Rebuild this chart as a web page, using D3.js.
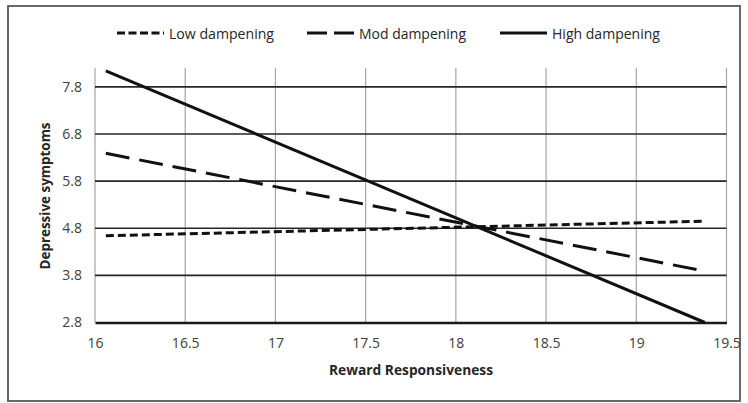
<!DOCTYPE html>
<html><head><meta charset="utf-8">
<script src="https://cdn.jsdelivr.net/npm/d3@7"></script>
<style>body{margin:0;background:#fff}svg{display:block}text{font-family:"Open Sans",sans-serif}</style>
</head><body><svg id="c" width="748" height="403"></svg>
<script>
const xPoints = [16.06, 19.38];
const lowDampening = [4.64, 4.95];
const modDampening = [6.39, 3.89];
const highDampening = [8.14, 2.8];
const seriesNames = ["Low dampening", "Mod dampening", "High dampening"];
const xTicks = [16, 16.5, 17, 17.5, 18, 18.5, 19, 19.5];
const yTicks = [2.8, 3.8, 4.8, 5.8, 6.8, 7.8];

const svg = d3.select("#c");
svg.append("rect").attr("x", 8).attr("y", 6).attr("width", 732).attr("height", 395)
  .attr("fill", "#fff").attr("stroke", "#595959").attr("stroke-width", 1.8);

const x = d3.scaleLinear().domain([16, 19.5]).range([95, 726.5]);
const y = d3.scaleLinear().domain([2.8, 8.2]).range([322.5, 68]);

// vertical gridlines
svg.append("g").selectAll("line").data(xTicks).join("line")
  .attr("x1", d => x(d)).attr("x2", d => x(d)).attr("y1", y(8.2)).attr("y2", y(2.8))
  .attr("stroke", "#a6a6a6").attr("stroke-width", 1.2);
// horizontal gridlines
svg.append("g").selectAll("line").data(yTicks.slice(1)).join("line")
  .attr("x1", x(16)).attr("x2", x(19.5)).attr("y1", d => y(d)).attr("y2", d => y(d))
  .attr("stroke", "#262626").attr("stroke-width", 1.6);

// axes
const xAxis = svg.append("g").attr("transform", `translate(0,${y(2.8)})`)
  .call(d3.axisBottom(x).tickValues(xTicks).tickSize(0).tickPadding(16).tickFormat(d3.format("")));
xAxis.select(".domain").attr("stroke", "#1a1a1a").attr("stroke-width", 2.4);
xAxis.selectAll("text").attr("font-size", 14).attr("fill", "#404040");

const yAxis = svg.append("g").attr("transform", `translate(${x(16)},0)`)
  .call(d3.axisLeft(y).tickValues(yTicks).tickSize(0).tickPadding(13).tickFormat(d3.format(".1f")));
yAxis.select(".domain").remove();
yAxis.selectAll("text").attr("font-size", 14).attr("fill", "#404040");

// series
const series = [
  {name: seriesNames[0], vals: lowDampening, dash: "8,4", legDash: "8,3.5"},
  {name: seriesNames[1], vals: modDampening, dash: "24,10", legDash: "20,7"},
  {name: seriesNames[2], vals: highDampening, dash: null, legDash: null}
];
const line = d3.line().x(d => x(d[0])).y(d => y(d[1]));
series.forEach(s => {
  svg.append("path").datum(xPoints.map((xv, i) => [xv, s.vals[i]]))
    .attr("d", line).attr("fill", "none").attr("stroke", "#111")
    .attr("stroke-width", 3).attr("stroke-dasharray", s.dash);
});

// legend
const legX = [117, 307, 500];
const legW = [105, 107, 108];
series.forEach((s, i) => {
  const g = svg.append("g");
  g.append("line").attr("x1", legX[i]).attr("x2", legX[i] + 47).attr("y1", 33).attr("y2", 33)
    .attr("stroke", "#111").attr("stroke-width", 3).attr("stroke-dasharray", s.legDash);
  g.append("text").attr("x", legX[i] + 52).attr("y", 38.5).attr("font-size", 15).attr("fill", "#262626")
    .attr("textLength", legW[i]).attr("lengthAdjust", "spacingAndGlyphs").text(s.name);
});

// axis titles
svg.append("text").attr("x", 411).attr("y", 375).attr("text-anchor", "middle")
  .attr("font-size", 15).attr("font-weight", "bold").attr("fill", "#262626")
  .attr("textLength", 164).attr("lengthAdjust", "spacingAndGlyphs").text("Reward Responsiveness");
svg.append("text").attr("transform", "translate(50,196) rotate(-90)").attr("text-anchor", "middle")
  .attr("font-size", 15).attr("font-weight", "bold").attr("fill", "#262626")
  .attr("textLength", 147).attr("lengthAdjust", "spacingAndGlyphs").text("Depressive symptoms");
</script></body></html>
